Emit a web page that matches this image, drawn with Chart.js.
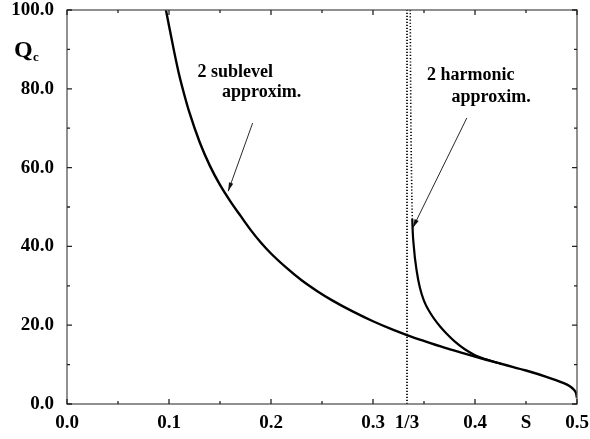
<!DOCTYPE html>
<html>
<head>
<meta charset="utf-8">
<script src="https://cdn.jsdelivr.net/npm/chart.js@4/dist/chart.umd.min.js"></script>
<style>
    html, body { margin: 0; padding: 0; background: #fff; }
    #chart { display: block; }
</style>
</head>
<body>
<canvas id="chart" width="590" height="439"></canvas>
<script>
// ============================================================================
// Data
// ============================================================================

const sublevelS = [0.097, 0.100, 0.105, 0.110, 0.115, 0.120, 0.130, 0.140, 0.150, 0.160,
    0.170, 0.180, 0.190, 0.200, 0.215, 0.230, 0.245, 0.260, 0.280, 0.300,
    0.320, 0.3333, 0.350, 0.370, 0.390, 0.410, 0.430, 0.450, 0.470, 0.485,
    0.493, 0.497, 0.499, 0.500];
const sublevelQ = [100, 96, 89.5, 83.5, 78.5, 74, 66.5, 60.5, 55.6, 51.5,
    47.8, 44.2, 41.0, 38.2, 34.6, 31.4, 28.7, 26.3, 23.5, 21.0,
    18.8, 17.5, 16.0, 14.3, 12.8, 11.3, 9.9, 8.5, 6.9, 5.5,
    4.5, 3.6, 2.8, 1.5];

const harmonicS = [0.3365, 0.3368, 0.3372, 0.3378, 0.3385, 0.340, 0.343, 0.346, 0.350, 0.355,
    0.360, 0.366, 0.372, 0.380, 0.390, 0.400, 0.410, 0.420, 0.427];
const harmonicQ = [100, 85, 70, 58, 47, 40, 33.5, 29.5, 26.2, 23.6,
    21.6, 19.6, 17.9, 15.9, 13.9, 12.4, 11.4, 10.6, 10.1];

const thirdS = [1 / 3, 1 / 3];
const thirdQ = [0, 100];

const xTickValues = [0, 0.1, 0.2, 0.3, 1 / 3, 0.4, 0.45, 0.5];
const xTickLabels = ['0.0', '0.1', '0.2', '0.3', '1/3', '0.4', 'S', '0.5'];
const yTickValues = [0, 20, 40, 60, 80, 100];

// annotation text: [s, Q] anchor of left/middle of the text
const notes = [
    { text: '2 sublevel', s: 0.128, q: 84.3 },
    { text: 'approxim.', s: 0.152, q: 79.0 },
    { text: '2 harmonic', s: 0.353, q: 83.5 },
    { text: 'approxim.', s: 0.377, q: 77.8 },
];
// arrows: from [s, Q] to [s, Q]
const arrows = [
    { from: [0.182, 71.3], to: [0.158, 54.0] },
    { from: [0.392, 72.6], to: [0.339, 44.7] },
];

const serif = '"Liberation Serif", "DejaVu Serif", serif';

function toPoints(xs, ys) {
    return xs.map((x, i) => ({ x, y: ys[i] }));
}

// ============================================================================
// Plugin: inward ticks, frame, labels and arrows
// ============================================================================

const decorations = {
    id: 'decorations',
    afterDraw(chart) {
        const { ctx, chartArea: a, scales: { x, y } } = chart;
        ctx.save();

        // frame
        ctx.strokeStyle = '#555';
        ctx.lineWidth = 1.3;
        ctx.strokeRect(a.left, a.top, a.right - a.left, a.bottom - a.top);

        // ticks (pointing inwards, on all four sides)
        ctx.strokeStyle = '#222';
        ctx.lineWidth = 1.3;
        ctx.beginPath();
        for (let i = 0; i <= 10; i++) {
            const px = x.getPixelForValue(i * 0.05);
            const len = i % 2 === 0 ? 5 : 3;
            ctx.moveTo(px, a.bottom); ctx.lineTo(px, a.bottom - len);
            ctx.moveTo(px, a.top); ctx.lineTo(px, a.top + len);
        }
        for (let i = 0; i <= 10; i++) {
            const py = y.getPixelForValue(i * 10);
            const len = i % 2 === 0 ? 5 : 3;
            ctx.moveTo(a.left, py); ctx.lineTo(a.left + len, py);
            ctx.moveTo(a.right, py); ctx.lineTo(a.right - len, py);
        }
        ctx.stroke();

        // Q_c axis title
        ctx.fillStyle = '#000';
        ctx.textBaseline = 'alphabetic';
        ctx.textAlign = 'left';
        ctx.font = 'bold 24px ' + serif;
        ctx.fillText('Q', a.left - 53, a.top + 47);
        ctx.font = 'bold 13px ' + serif;
        ctx.fillText('c', a.left - 34, a.top + 51);

        // curve annotations
        ctx.font = 'bold 18px ' + serif;
        ctx.textBaseline = 'middle';
        notes.forEach(n => {
            ctx.fillText(n.text, x.getPixelForValue(n.s), y.getPixelForValue(n.q));
        });

        // arrows
        ctx.lineWidth = 0.9;
        ctx.strokeStyle = '#111';
        arrows.forEach(ar => {
            const x0 = x.getPixelForValue(ar.from[0]);
            const y0 = y.getPixelForValue(ar.from[1]);
            const x1 = x.getPixelForValue(ar.to[0]);
            const y1 = y.getPixelForValue(ar.to[1]);
            const ang = Math.atan2(y1 - y0, x1 - x0);
            ctx.beginPath();
            ctx.moveTo(x0, y0);
            ctx.lineTo(x1, y1);
            ctx.stroke();
            ctx.beginPath();
            ctx.moveTo(x1, y1);
            ctx.lineTo(x1 - 9 * Math.cos(ang - 0.25), y1 - 9 * Math.sin(ang - 0.25));
            ctx.lineTo(x1 - 9 * Math.cos(ang + 0.25), y1 - 9 * Math.sin(ang + 0.25));
            ctx.closePath();
            ctx.fillStyle = '#111';
            ctx.fill();
        });

        ctx.restore();
    }
};

// ============================================================================
// Chart
// ============================================================================

function renderChart() {
    const canvas = document.getElementById('chart');
    new Chart(canvas, {
        type: 'scatter',
        data: {
            datasets: [
                {
                    label: '2 sublevel approxim.',
                    data: toPoints(sublevelS, sublevelQ),
                    showLine: true,
                    borderColor: '#000',
                    borderWidth: 2.4,
                    pointRadius: 0,
                    cubicInterpolationMode: 'monotone',
                },
                {
                    label: '2 harmonic approxim.',
                    data: toPoints(harmonicS, harmonicQ),
                    showLine: true,
                    borderColor: '#000',
                    borderWidth: 2.2,
                    pointRadius: 0,
                    cubicInterpolationMode: 'monotone',
                    // upper part hugs the 1/3 line and only shows as dots
                    segment: {
                        borderDash: c => (c.p0.parsed.y > 47.5 ? [1.2, 2] : undefined),
                        borderWidth: c => (c.p0.parsed.y > 47.5 ? 1.6 : undefined),
                    },
                },
                {
                    label: 'S = 1/3',
                    data: toPoints(thirdS, thirdQ),
                    showLine: true,
                    borderColor: '#222',
                    borderWidth: 2,
                    borderDash: [1.2, 1.8],
                    pointRadius: 0,
                },
            ],
        },
        options: {
            responsive: false,
            animation: false,
            layout: { padding: { left: 0, right: 13, top: 10, bottom: 0 } },
            plugins: {
                legend: { display: false },
                tooltip: { enabled: false },
            },
            scales: {
                x: {
                    type: 'linear',
                    min: 0,
                    max: 0.5,
                    grid: { display: false, drawTicks: false },
                    border: { display: false },
                    afterBuildTicks: scale => {
                        scale.ticks = xTickValues.map(v => ({ value: v }));
                    },
                    afterFit: scale => {
                        scale.height = 35;
                        scale.paddingLeft = 0;
                        scale.paddingRight = 0;
                    },
                    ticks: {
                        autoSkip: false,
                        maxRotation: 0,
                        padding: 8,
                        color: '#000',
                        font: { family: serif, size: 19, weight: 'bold' },
                        callback: (v, i) => xTickLabels[i],
                    },
                },
                y: {
                    type: 'linear',
                    min: 0,
                    max: 100,
                    grid: { display: false, drawTicks: false },
                    border: { display: false },
                    afterBuildTicks: scale => {
                        scale.ticks = yTickValues.map(v => ({ value: v }));
                    },
                    afterFit: scale => {
                        scale.width = 67;
                        scale.paddingTop = 0;
                        scale.paddingBottom = 0;
                    },
                    ticks: {
                        padding: 13,
                        color: '#000',
                        font: { family: serif, size: 19, weight: 'bold' },
                        callback: v => v.toFixed(1),
                    },
                },
            },
        },
        plugins: [decorations],
    });
}

renderChart();
</script>
</body>
</html>
